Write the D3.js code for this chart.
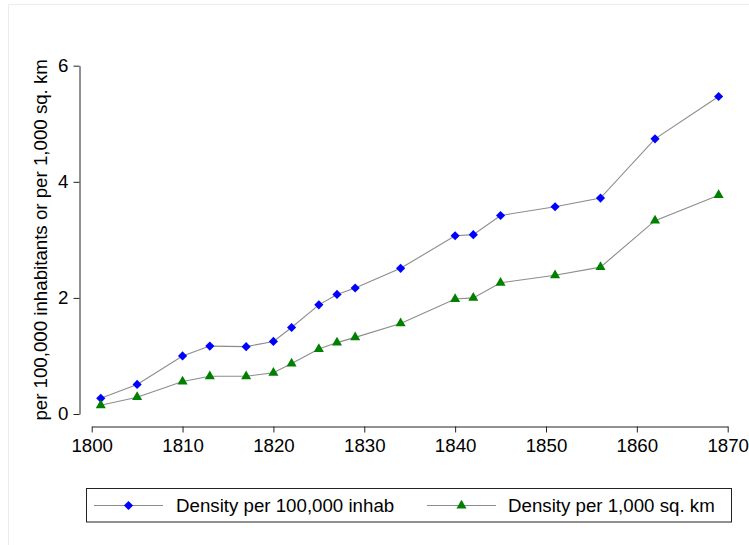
<!DOCTYPE html>
<html>
<head>
<meta charset="utf-8">
<script src="https://cdn.jsdelivr.net/npm/d3@7"></script>
<style>
  html, body { margin: 0; padding: 0; background: #fff; }
  #chart { width: 749px; height: 545px; }
  text { font-family: Arial, "Liberation Sans", sans-serif; fill: #000; }
</style>
</head>
<body>
<div id="chart"></div>
<script>
// data
const years = [1801, 1805, 1810, 1813, 1817, 1820, 1822, 1825, 1827, 1829, 1834, 1840, 1842, 1845, 1851, 1856, 1862, 1869];
const perInhab = [0.27, 0.51, 1.0, 1.17, 1.16, 1.25, 1.49, 1.88, 2.06, 2.17, 2.51, 3.07, 3.09, 3.42, 3.57, 3.72, 4.74, 5.47];
const perArea = [0.15, 0.29, 0.56, 0.65, 0.65, 0.71, 0.87, 1.12, 1.23, 1.32, 1.56, 1.98, 2.0, 2.26, 2.39, 2.53, 3.33, 3.77];
const xTicks = [1800, 1810, 1820, 1830, 1840, 1850, 1860, 1870];
const yTicks = [0, 2, 4, 6];
const seriesNames = ["Density per 100,000 inhab", "Density per 1,000 sq. km"];

const FS = 18.7;

function drawChart() {
  const W = 749, H = 545;
  const svg = d3.select('#chart').append('svg')
    .attr('width', W).attr('height', H);

  // faint outer frame like the original graph region
  svg.append('rect')
    .attr('x', 8.5).attr('y', 4.5)
    .attr('width', W + 10).attr('height', H + 10)
    .attr('fill', 'none').attr('stroke', '#ececec');

  const x = d3.scaleLinear().domain([1800, 1870]).range([91.7, 727.7]);
  const y = d3.scaleLinear().domain([0, 6]).range([414, 65.7]);

  // y axis
  const yAxis = svg.append('g')
    .attr('transform', 'translate(79.5,0)')
    .call(d3.axisLeft(y).tickValues(yTicks).tickFormat(d3.format('d')).tickSize(6).tickPadding(5).tickSizeOuter(0));
  yAxis.select('.domain').attr('stroke', '#222');
  yAxis.selectAll('.tick line').attr('stroke', '#222');
  yAxis.selectAll('.tick text').attr('font-size', FS).attr('font-family', 'Arial, "Liberation Sans", sans-serif');

  // x axis
  const xAxis = svg.append('g')
    .attr('transform', 'translate(0,426.5)')
    .call(d3.axisBottom(x).tickValues(xTicks).tickFormat(d3.format('d')).tickSize(6).tickPadding(6).tickSizeOuter(0));
  xAxis.select('.domain').attr('stroke', '#222');
  xAxis.selectAll('.tick line').attr('stroke', '#222');
  xAxis.selectAll('.tick text').attr('font-size', FS).attr('font-family', 'Arial, "Liberation Sans", sans-serif');

  // y title
  svg.append('text')
    .attr('transform', `translate(46.5,${(y(0) + y(6)) / 2}) rotate(-90)`)
    .attr('text-anchor', 'middle')
    .attr('font-size', FS)
    .text('per 100,000 inhabitants or per 1,000 sq. km');

  const line = d3.line().x(d => x(d[0])).y(d => y(d[1]));
  const diamond = d3.symbol().type(d3.symbolSquare).size(42);
  const triangle = d3.symbol().type(d3.symbolTriangle).size(44);

  const series = [
    { name: seriesNames[0], vals: perInhab, color: '#0000ff', sym: diamond, rot: 45 },
    { name: seriesNames[1], vals: perArea, color: '#008000', sym: triangle, rot: 0 }
  ];

  series.forEach(s => {
    const pts = years.map((yr, i) => [yr, s.vals[i]]);
    svg.append('path')
      .datum(pts)
      .attr('d', line)
      .attr('fill', 'none')
      .attr('stroke', '#8c8c8c')
      .attr('stroke-width', 1.1);
    svg.append('g').selectAll('path')
      .data(pts)
      .enter()
      .append('path')
      .attr('d', s.sym)
      .attr('transform', d => `translate(${x(d[0])},${y(d[1])}) rotate(${s.rot})`)
      .attr('fill', s.color);
  });

  // legend
  const lg = svg.append('g');
  lg.append('rect')
    .attr('x', 86.5).attr('y', 488.5)
    .attr('width', 645).attr('height', 33.5)
    .attr('fill', '#fff').attr('stroke', '#222');

  const items = [
    { x0: 94, x1: 163, tx: 176 },
    { x0: 427, x1: 496, tx: 508 }
  ];
  series.forEach((s, i) => {
    const it = items[i];
    const cy = 505.5;
    lg.append('line')
      .attr('x1', it.x0).attr('x2', it.x1)
      .attr('y1', cy).attr('y2', cy)
      .attr('stroke', '#8c8c8c').attr('stroke-width', 1.1);
    lg.append('path')
      .attr('d', s.sym)
      .attr('transform', `translate(${(it.x0 + it.x1) / 2},${cy}) rotate(${s.rot})`)
      .attr('fill', s.color);
    lg.append('text')
      .attr('x', it.tx).attr('y', cy)
      .attr('dy', '0.35em')
      .attr('font-size', FS)
      .text(s.name);
  });
}

drawChart();
</script>
</body>
</html>
